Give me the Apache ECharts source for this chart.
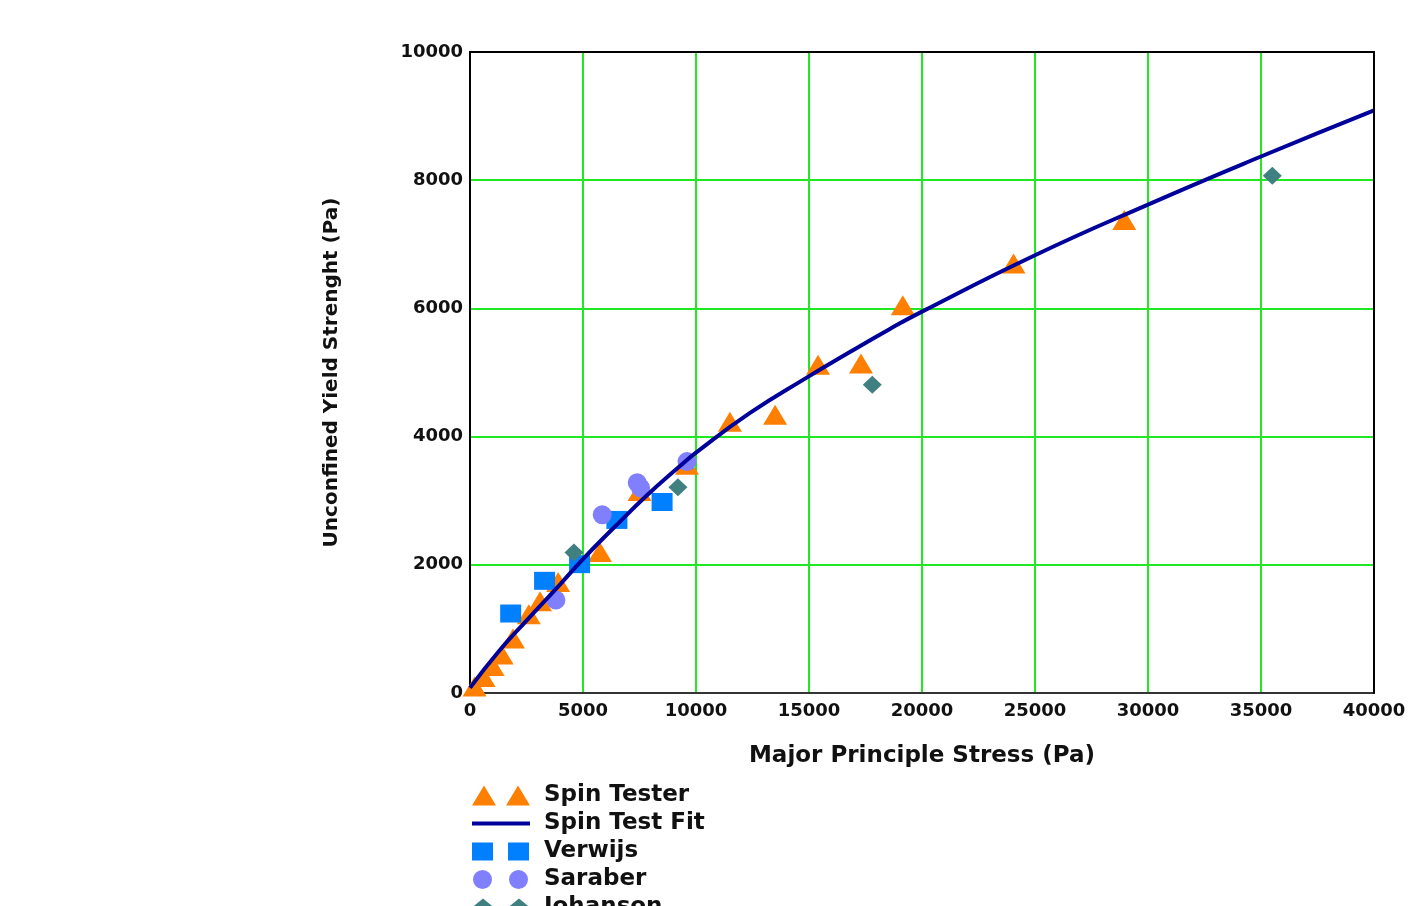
<!DOCTYPE html>
<html>
<head>
<meta charset="utf-8">
<script src="https://cdn.jsdelivr.net/npm/echarts@6/dist/echarts.min.js"></script>
<style>
html,body{margin:0;padding:0;background:#fff;}
#c{width:1412px;height:906px;}
</style>
</head>
<body>
<div id="c"></div>
<script>
var xTicks = [0, 5000, 10000, 15000, 20000, 25000, 30000, 35000, 40000];
var yTicks = [0, 2000, 4000, 6000, 8000, 10000];

var spinTester = [[200,100],[600,250],[1000,420],[1400,600],[1900,850],[2600,1230],[3100,1430],[3900,1730],
  [5750,2200],[7500,3150],[9600,3560],[11500,4230],[13500,4340],[15400,5120],[17300,5140],[19150,6050],[24050,6700],[28950,7380]];
var spinTestFit = [[0,80],[1250,640],[2500,1130],[4000,1700],[5000,2090],[6340,2570],[7820,3080],[9290,3540],[10000,3750],
  [12390,4370],[14900,4920],[16810,5320],[18580,5680],[20000,5950],[25000,6830],[30000,7620],[35000,8370],[40000,9090]];
var verwijs = [[1800,1240],[3300,1750],[4850,2010],[6500,2700],[8500,2980]];
var saraber = [[3800,1450],[5850,2780],[7400,3280],[7550,3200],[9600,3610]];
var johanson = [[4600,2190],[9200,3210],[17800,4810],[35500,8070]];

var seriesNames = ['Spin Tester','Spin Test Fit','Verwijs','Saraber','Johanson'];

var FONT = 'DejaVu Sans';
var gridCol = '#22e822';
function tickFmt(list){ return function(v){ return list.indexOf(v) >= 0 ? String(v) : ''; }; }

var chart = echarts.init(document.getElementById('c'));
chart.setOption({
  animation: false,
  backgroundColor: '#fff',
  grid: {left: 470, right: 38, top: 52, bottom: 213},
  xAxis: [{
    type: 'value', min: xTicks[0], max: xTicks[xTicks.length-1], interval: 5000,
    name: 'Major Principle Stress (Pa)', nameLocation: 'middle', nameGap: 52,
    nameTextStyle: {fontFamily: FONT, fontWeight: 'bold', fontSize: 23, color: '#111'},
    axisLine: {show: true, onZero: false, lineStyle: {color: '#333', width: 2}},
    axisTick: {show: false},
    axisLabel: {margin: 9, fontFamily: FONT, fontWeight: 'bold', fontSize: 18, color: '#111', formatter: tickFmt(xTicks)},
    splitLine: {show: true, lineStyle: {color: gridCol, width: 2}},
    z: 1
  }, {
    type: 'value', position: 'top', min: xTicks[0], max: xTicks[xTicks.length-1], interval: 5000,
    axisLine: {show: true, onZero: false, lineStyle: {color: '#000', width: 2}},
    axisTick: {show: false}, axisLabel: {show: false}, splitLine: {show: false}, z: 5
  }],
  yAxis: [{
    type: 'value', min: yTicks[0], max: yTicks[yTicks.length-1], interval: 2000,
    name: 'Unconfined Yield Strenght (Pa)', nameLocation: 'middle', nameGap: 128, nameRotate: 90,
    nameTextStyle: {fontFamily: FONT, fontWeight: 'bold', fontSize: 20, color: '#111'},
    axisLine: {show: true, onZero: false, lineStyle: {color: '#000', width: 2}},
    axisTick: {show: false},
    axisLabel: {margin: 7, fontFamily: FONT, fontWeight: 'bold', fontSize: 18, color: '#111', formatter: tickFmt(yTicks)},
    splitLine: {show: true, lineStyle: {color: gridCol, width: 2}},
    z: 1
  }, {
    type: 'value', position: 'right', min: yTicks[0], max: yTicks[yTicks.length-1], interval: 2000,
    axisLine: {show: true, onZero: false, lineStyle: {color: '#000', width: 2}},
    axisTick: {show: false}, axisLabel: {show: false}, splitLine: {show: false}, z: 5
  }],
  legend: {
    orient: 'vertical', left: 472, top: 784, height: 400, itemWidth: 58, itemHeight: 20, itemGap: 5,
    padding: 0,
    textStyle: {fontFamily: FONT, fontWeight: 'bold', fontSize: 23, lineHeight: 20, color: '#111', padding: [0,0,0,9]},
    data: [
      {name: seriesNames[0], icon: 'path://M0,20L12,0L24,20Z M34,20L46,0L58,20Z'},
      {name: seriesNames[1], icon: 'path://M0,8L58,8L58,12L0,12Z M0,0L0.01,0L0.01,0.01Z M0,20L0.01,20L0.01,19.99Z'},
      {name: seriesNames[2], icon: 'path://M0,1L21,1L21,19L0,19Z M36,1L57,1L57,19L36,19Z M0,0L0.01,0L0.01,0.01Z M58,20L57.99,20L57.99,19.99Z'},
      {name: seriesNames[3], icon: 'path://M1,10A9.5,9.5 0 1,1 20,10A9.5,9.5 0 1,1 1,10Z M37,10A9.5,9.5 0 1,1 56,10A9.5,9.5 0 1,1 37,10Z M0,0L0.01,0L0.01,0.01Z M58,20L57.99,20L57.99,19.99Z'},
      {name: seriesNames[4], icon: 'path://M11,1L22,10L11,19L0,10Z M47,1L58,10L47,19L36,10Z M0,0L0.01,0L0.01,0.01Z M58,20L57.99,20L57.99,19.99Z'}
    ]
  },
  series: [
    {name: seriesNames[0], type: 'scatter', data: spinTester, symbol: 'triangle', symbolSize: [24, 20],
      itemStyle: {color: '#ff8000', opacity: 1}},
    {name: seriesNames[1], type: 'line', data: spinTestFit, smooth: 0.5, showSymbol: false, symbol: 'none',
      lineStyle: {color: '#00009a', width: 4}, itemStyle: {color: '#00009a'}},
    {name: seriesNames[2], type: 'scatter', data: verwijs, symbol: 'rect', symbolSize: [21, 18],
      itemStyle: {color: '#0080ff', opacity: 1}},
    {name: seriesNames[3], type: 'scatter', data: saraber, symbol: 'circle', symbolSize: 19,
      itemStyle: {color: '#8080ff', opacity: 1}},
    {name: seriesNames[4], type: 'scatter', data: johanson, symbol: 'diamond', symbolSize: [19, 18],
      itemStyle: {color: '#408080', opacity: 1}}
  ]
});
</script>
</body>
</html>
